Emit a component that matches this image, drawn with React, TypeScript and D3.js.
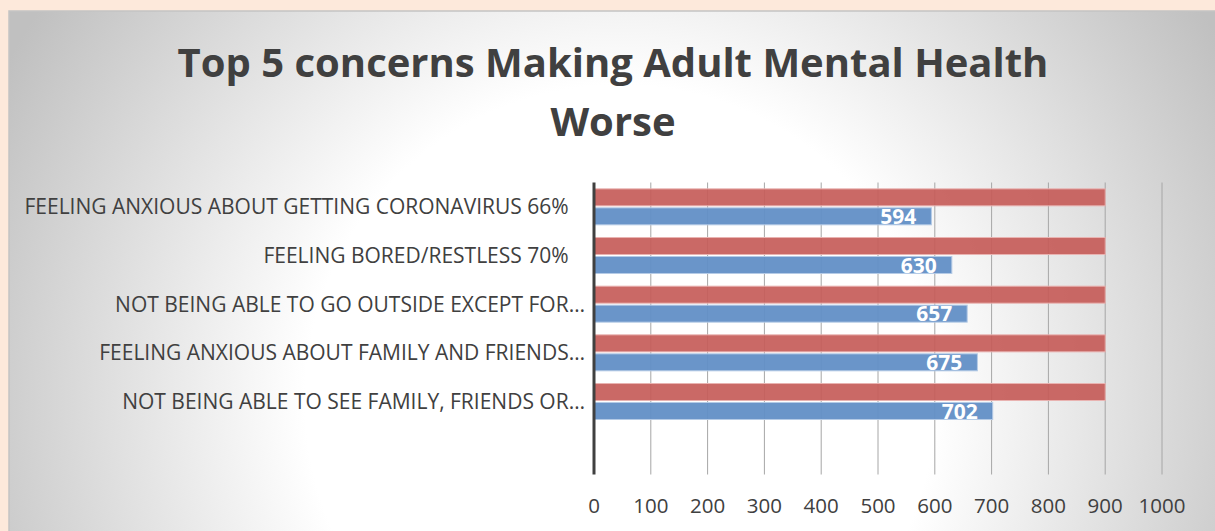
import React from "react";
import * as d3 from "d3";

const categories = [
  "FEELING ANXIOUS ABOUT GETTING CORONAVIRUS 66%\u00a0\u00a0\u00a0",
  "FEELING BORED/RESTLESS 70%\u00a0\u00a0\u00a0",
  "NOT BEING ABLE TO GO OUTSIDE EXCEPT FOR…",
  "FEELING ANXIOUS ABOUT FAMILY AND FRIENDS…",
  "NOT BEING ABLE TO SEE FAMILY, FRIENDS OR…",
  "",
];
const totalValues = [900, 900, 900, 900, 900];
const countValues = [594, 630, 657, 675, 702];
const xTicks = [0, 100, 200, 300, 400, 500, 600, 700, 800, 900, 1000];
const titleLines = ["Top 5 concerns Making Adult Mental Health", "Worse"];

const W = 1215;
const H = 531;

export default function App() {
  const x = d3.scaleLinear().domain([0, 1000]).range([594, 1162]);
  const y = d3.scaleBand().domain(categories.map((_, i) => String(i))).range([182.5, 474.5]).padding(0);
  const sub = d3.scaleBand().domain(["total", "count"]).range([0, y.bandwidth()]).paddingInner(0.105).paddingOuter(0.334);
  const font = "'Open Sans', sans-serif";
  const textColor = "#404040";

  return (
    <svg width={W} height={H} style={{ position: "absolute", left: 0, top: 0, display: "block" }}>
      <defs>
        <radialGradient id="bg" gradientUnits="userSpaceOnUse" cx={620} cy={400} r={700}>
          <stop offset="0" stopColor="#ffffff" />
          <stop offset="0.45" stopColor="#ffffff" />
          <stop offset="1" stopColor="#c0c0c0" />
        </radialGradient>
      </defs>
      <rect x={0} y={0} width={W} height={H} fill="#fde9db" />
      <rect x={9} y={11} width={W} height={H} fill="url(#bg)" stroke="#c4c4c4" strokeWidth={1.5} />

      {titleLines.map((t, i) => (
        <text key={i} x={613} y={77 + i * 59} textAnchor="middle" fontFamily={font} fontWeight={700} fontSize={40} fill={textColor}>
          {t}
        </text>
      ))}

      {xTicks.slice(1).map((t) => (
        <line key={t} x1={x(t)} x2={x(t)} y1={182.5} y2={474.5} stroke="#a6a6a6" strokeWidth={1} />
      ))}

      {totalValues.map((v, i) => (
        <rect key={"t" + i} x={x(0)} y={y(String(i))! + sub("total")!} width={x(v) - x(0)} height={sub.bandwidth()}
          fill="#c65c59" fillOpacity={0.92} stroke="#e9b3b1" strokeWidth={1} />
      ))}
      {countValues.map((v, i) => (
        <rect key={"c" + i} x={x(0)} y={y(String(i))! + sub("count")!} width={x(v) - x(0)} height={sub.bandwidth()}
          fill="#628fc6" fillOpacity={0.95} stroke="#b5cbe6" strokeWidth={1} />
      ))}
      {countValues.map((v, i) => (
        <text key={"l" + i} x={x(v) - 15} y={y(String(i))! + sub("count")! + sub.bandwidth() / 2} dy="0.36em"
          textAnchor="end" fontFamily={font} fontWeight={700} fontSize={21} fill="#ffffff">
          {v}
        </text>
      ))}

      <line x1={x(0)} x2={x(0)} y1={182.5} y2={474.5} stroke="#404040" strokeWidth={3} />

      {categories.map((c, i) => (
        <text key={"cat" + i} x={585} y={y(String(i))! + y.bandwidth() / 2} dy="0.36em" textAnchor="end"
          fontFamily={font} fontSize={21} fill={textColor}>
          {c}
        </text>
      ))}

      {xTicks.map((t) => (
        <text key={"x" + t} x={x(t)} y={513} textAnchor="middle" fontFamily={font} fontSize={20.5} fill={textColor}>
          {t}
        </text>
      ))}
    </svg>
  );
}
